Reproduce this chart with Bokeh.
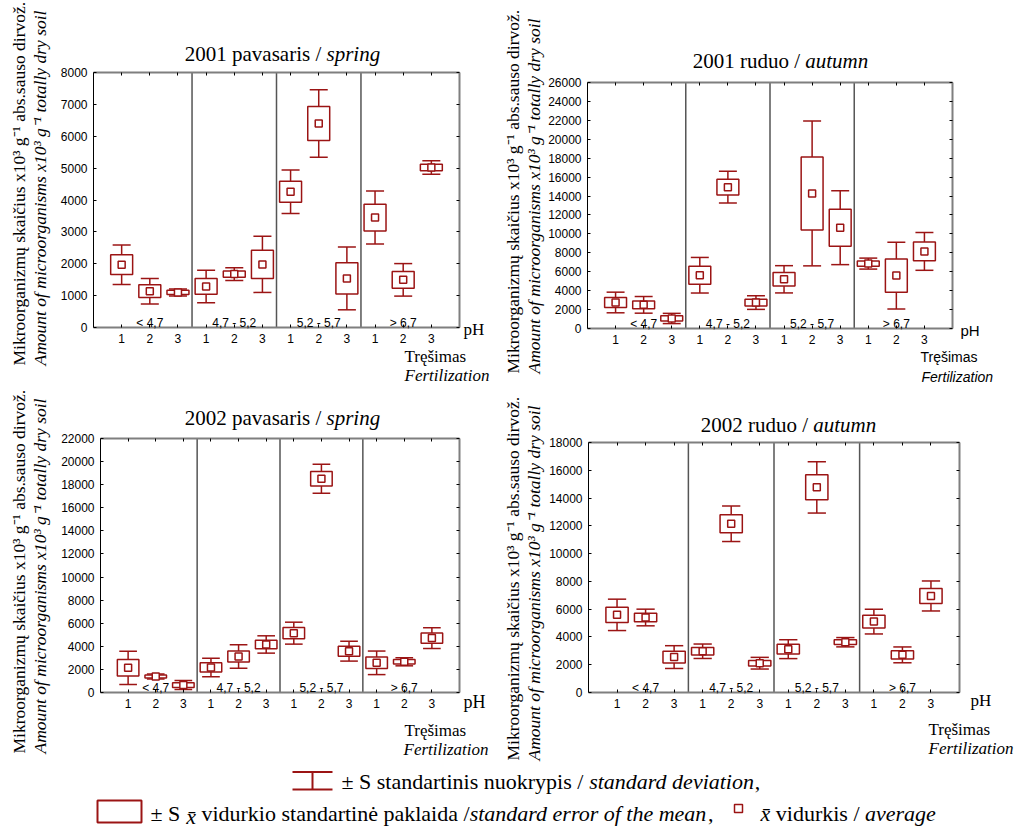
import numpy as np
from bokeh.plotting import figure
from bokeh.models import Range1d, FixedTicker, LinearAxis, Label, CustomJSTickFormatter
from bokeh.layouts import column, row
from bokeh.embed import file_html
from bokeh.resources import INLINE

# ---------------- data ----------------
fert_labels = ["1", "2", "3"] * 4
ph_groups = ["< 4,7", "4,7 - 5,2", "5,2 - 5,7", "> 6,7"]

s01_mean = [1970, 1140, 1100, 1290, 1675, 1980, 4260, 6400, 1540, 3450, 1495, 5020]
s01_se = [310, 200, 65, 250, 100, 440, 330, 530, 490, 420, 260, 100]
s01_sd = [620, 400, 110, 510, 200, 880, 680, 1060, 985, 830, 510, 210]

a01_mean = [2750, 2500, 1060, 5630, 14940, 2740, 5200, 14270, 10650, 6860, 5590, 8150]
a01_se = [530, 410, 280, 950, 840, 350, 720, 3850, 1950, 280, 1760, 980]
a01_sd = [1090, 880, 540, 1880, 1670, 720, 1440, 7650, 3900, 580, 3530, 2000]

s02_mean = [2140, 1380, 640, 2170, 3120, 4160, 5140, 18510, 3580, 2570, 2660, 4710]
s02_se = [720, 130, 200, 400, 480, 375, 480, 630, 430, 500, 200, 450]
s02_sd = [1440, 220, 390, 800, 1020, 750, 950, 1250, 860, 1020, 350, 900]

a02_mean = [5590, 5400, 2550, 2970, 12150, 2110, 3120, 14770, 3620, 5105, 2710, 6950]
a02_se = [550, 310, 420, 265, 650, 200, 350, 900, 170, 455, 300, 540]
a02_sd = [1130, 600, 820, 520, 1280, 420, 680, 1850, 335, 890, 570, 1080]

ylabel_lt = "Mikroorganizmų skaičius x10³ g⁻¹ abs.sauso dirvož."
ylabel_en = "Amount of microorganisms x10³ g⁻¹ totally dry soil"

RED = "#9b1414"
GRAY = "#7f7f7f"
SERIF = "Liberation Serif"
SANS = "Liberation Sans"

# ---------------- text width helper (Times metrics) ----------------
_lc = "abcdefghijklmnopqrstuvwxyz"
_uc = "ABCDEFGHIJKLMNOPQRSTUVWXYZ"
TN = dict(zip(_lc, [444,500,444,500,444,333,500,500,278,278,500,278,778,500,500,500,500,333,389,278,500,500,722,500,500,444]))
TN.update(zip(_uc, [722,667,667,722,611,556,722,722,333,389,722,611,889,722,722,556,722,667,556,611,722,722,944,722,722,611]))
TI = dict(zip(_lc, [500,500,444,500,444,278,500,500,278,278,444,278,722,500,500,500,500,389,389,278,500,444,667,444,444,389]))
TI.update(zip(_uc, [611,611,667,722,611,611,722,722,333,444,667,556,833,667,722,611,722,611,500,556,722,611,833,611,556,556]))
for d in (TN, TI):
    d.update({c: 500 for c in "0123456789"})
    d.update({" ": 250, ",": 250, ".": 250, "/": 278, "-": 333, "±": 564, "<": 564, ">": 564})
ACC = {"ą": "a", "ę": "e", "ė": "e", "į": "i", "š": "s", "ų": "u", "ū": "u", "č": "c", "ž": "z"}


def tw(s, size, italic=False):
    d = TI if italic else TN
    w = 0
    for ch in s:
        if 0x300 <= ord(ch) <= 0x36F:
            continue
        ch = ACC.get(ch, ch)
        w += d.get(ch, 500)
    return w * size / 1000.0


class Canvas:
    """Maps panel pixel coordinates (origin top-left) to data coordinates."""
    def __init__(self, p, fx, fy):
        self.p, self.fx, self.fy = p, fx, fy

    def text(self, text, cx, cy, size, font=SERIF, italic=False, align="left",
             baseline="alphabetic", angle=0):
        x, y = self.fx(cx), self.fy(cy)
        self.p.add_layout(Label(x=x, y=y, text=text, text_font=font,
                                text_font_size=f"{size}px",
                                text_font_style="italic" if italic else "normal",
                                text_align=align, text_baseline=baseline, angle=angle,
                                text_color="black"))

    def runs(self, parts, cx, cy, size, align="left", baseline="alphabetic", font=SERIF):
        total = sum(tw(t, size, it) for t, it, *_ in parts)
        x = cx - total / 2 if align == "center" else cx
        for part in parts:
            t, it = part[0], part[1]
            dy = part[2] if len(part) > 2 else 0
            lead = len(t) - len(t.lstrip(" "))
            st = t.strip(" ")
            if st:
                self.text(st, x + tw(" " * lead, size, it), cy + dy, size, font=font,
                          italic=it, baseline=baseline)
            x += tw(t, size, it)


pos = np.arange(1, 13)
dividers = np.arange(1, 4) * 3 + 0.5


def make_panel(mean, se, sd, ymax, ystep, cfg):
    mean = np.array(mean, float); se = np.array(se, float); sd = np.array(sd, float)
    W, H = cfg["W"], cfg["H"]
    L, R, T, B = cfg["box"]
    sx = 13.0 / (R - L)
    sy = ymax / float(B - T)
    p = figure(width=W, height=H,
               x_range=Range1d(-L * sx, 13 + (W - R) * sx),
               y_range=Range1d(-(H - B) * sy, ymax + T * sy),
               x_axis_type=None, y_axis_type=None, output_backend="svg", toolbar_location=None,
               min_border=0, outline_line_color=None,
               background_fill_color="white", border_fill_color="white")
    p.title.visible = False
    cv = Canvas(p, lambda cx: (cx - L) * sx, lambda cy: (B - cy) * sy)

    yt = FixedTicker(ticks=list(range(0, ymax + 1, ystep)))
    xt = FixedTicker(ticks=list(pos))
    empty = CustomJSTickFormatter(code="return ''")
    common = dict(major_tick_in=3, major_tick_out=0, minor_tick_line_color=None,
                  major_tick_line_color="black", major_label_standoff=6,
                  major_label_text_font=SANS, major_label_text_font_size="12px",
                  major_label_text_color="black")

    ax_l = LinearAxis(ticker=yt, fixed_location=0, bounds=(0, ymax),
                      axis_line_color="black", axis_line_width=1, **common)
    ax_b = LinearAxis(ticker=xt, fixed_location=0, bounds=(0, 13),
                      axis_line_color=GRAY, axis_line_width=2,
                      major_label_overrides={int(k): v for k, v in zip(pos, fert_labels)}, **common)
    ax_t = LinearAxis(ticker=xt, fixed_location=ymax, bounds=(0, 13),
                      axis_line_color=GRAY, axis_line_width=2, major_tick_in=3, major_tick_out=0,
                      minor_tick_line_color=None, major_tick_line_color="black", formatter=empty)
    ax_r = LinearAxis(ticker=yt, fixed_location=13, bounds=(0, ymax),
                      axis_line_color=GRAY, axis_line_width=2, major_tick_in=3, major_tick_out=0,
                      minor_tick_line_color=None, major_tick_line_color="black", formatter=empty)
    p.add_layout(ax_l, "left")
    p.add_layout(ax_b, "below")
    p.add_layout(ax_t, "above")
    p.add_layout(ax_r, "right")

    # pH group dividers
    p.segment(x0=dividers, y0=0, x1=dividers, y1=ymax, line_color="#555555", line_width=1.5)

    # whiskers (± SD)
    p.segment(x0=pos, y0=mean + se, x1=pos, y1=mean + sd, line_color=RED, line_width=1.5)
    p.segment(x0=pos, y0=mean - se, x1=pos, y1=mean - sd, line_color=RED, line_width=1.5)
    p.segment(x0=pos - 0.32, y0=mean + sd, x1=pos + 0.32, y1=mean + sd, line_color=RED, line_width=1.5)
    p.segment(x0=pos - 0.32, y0=mean - sd, x1=pos + 0.32, y1=mean - sd, line_color=RED, line_width=1.5)
    # ± SE boxes
    p.quad(left=pos - 0.39, right=pos + 0.39, bottom=mean - se, top=mean + se,
           fill_color="white", line_color=RED, line_width=1.5)
    # means
    p.scatter(pos, mean, marker="square", size=7, fill_color="white", line_color=RED, line_width=1.5)

    # pH group labels
    for gi, g in enumerate(ph_groups):
        p.add_layout(Label(x=3 * gi + 2, y=5 * sy, text=g, text_font=SANS, text_font_size="12px",
                           text_align="center", text_baseline="alphabetic", text_color="black"))

    # title
    tx, ty = cfg["title_xy"]
    cv.runs([(cfg["title"][0], False), (cfg["title"][1], True)], tx, ty, 21,
            align="center", baseline="middle")

    # y labels
    yx1, yx2, yy = cfg["ylab"]
    cv.text(ylabel_lt, yx1, yy, 17.5, angle=np.pi / 2, baseline="middle")
    cv.text(ylabel_en, yx2, yy, 17.5, italic=True, angle=np.pi / 2, baseline="middle")

    # pH / fertilization labels
    f = cfg["axfont"]
    (phx, phy, phs), (trx, try_, trs), (fex, fey, fes) = cfg["axlab"]
    cv.text("pH", phx, phy, phs, font=f)
    cv.text("Tręšimas", trx, try_, trs, font=f)
    cv.text("Fertilization", fex, fey, fes, font=f, italic=True)
    return p


cfg1 = dict(W=500, H=385, box=(93, 459, 72, 327), title=("2001 pavasaris / ", "spring"),
            title_xy=(282, 53), ylab=(18, 39, 365), axfont=SERIF,
            axlab=((463, 329, 17), (404, 356, 17), (404, 375, 17)))
cfg2 = dict(W=516, H=385, box=(87, 452, 82, 328), title=("2001 ruduo / ", "autumn"),
            title_xy=(280, 60), ylab=(12, 33, 373), axfont=SANS,
            axlab=((460, 330, 15), (420, 356, 14), (421, 376, 14)))
cfg3 = dict(W=500, H=385, box=(100, 459, 53, 307), title=("2002 pavasaris / ", "spring"),
            title_xy=(282, 32), ylab=(18, 39, 368), axfont=SERIF,
            axlab=((463, 316, 18), (404, 345, 17), (403, 364, 17)))
cfg4 = dict(W=516, H=385, box=(88, 459, 57, 307), title=("2002 ruduo / ", "autumn"),
            title_xy=(288, 39), ylab=(12, 33, 375), axfont=SERIF,
            axlab=((470, 315, 17), (428, 344, 17), (428, 363, 17)))

p1 = make_panel(s01_mean, s01_se, s01_sd, 8000, 1000, cfg1)
p2 = make_panel(a01_mean, a01_se, a01_sd, 26000, 2000, cfg2)
p3 = make_panel(s02_mean, s02_se, s02_sd, 22000, 2000, cfg3)
p4 = make_panel(a02_mean, a02_se, a02_sd, 18000, 2000, cfg4)

# ---------------- legend ----------------
LH = 61
leg = figure(width=1016, height=LH, x_range=Range1d(0, 1016), y_range=Range1d(0, LH),
             x_axis_type=None, y_axis_type=None, output_backend="svg", toolbar_location=None,
             min_border=0, outline_line_color=None)
leg.title.visible = False
lc = Canvas(leg, lambda cx: cx, lambda cy: LH - cy)
# whisker key (± SD)
leg.segment(x0=[292, 292, 312], y0=[LH - 1.5, LH - 19, LH - 1.5], x1=[332, 332, 312],
            y1=[LH - 1.5, LH - 19, LH - 19], line_color=RED, line_width=2)
lc.runs([("± S standartinis nuokrypis / ", False), ("standard deviation", True), (",", False)],
        341, 11, 22, baseline="middle")
# box key (± SE)
leg.quad(left=[97], right=[141], bottom=[LH - 52], top=[LH - 30], fill_color="white",
         line_color=RED, line_width=2)
lc.runs([("± S ", False), ("x̄", True, 3), (" vidurkio standartinė paklaida /", False),
         ("standard error of the mean", True), (",", False)],
        150, 43, 22, baseline="middle")
# mean key
leg.scatter([738], [LH - 38], marker="square", size=8, fill_color="white", line_color=RED, line_width=1.5)
lc.runs([("x̄", True), (" vidurkis / ", False), ("average", True)], 760, 43, 22, baseline="middle")

layout = column(row(p1, p2), row(p3, p4), leg)
open("out.html", "w").write(file_html(layout, INLINE))
